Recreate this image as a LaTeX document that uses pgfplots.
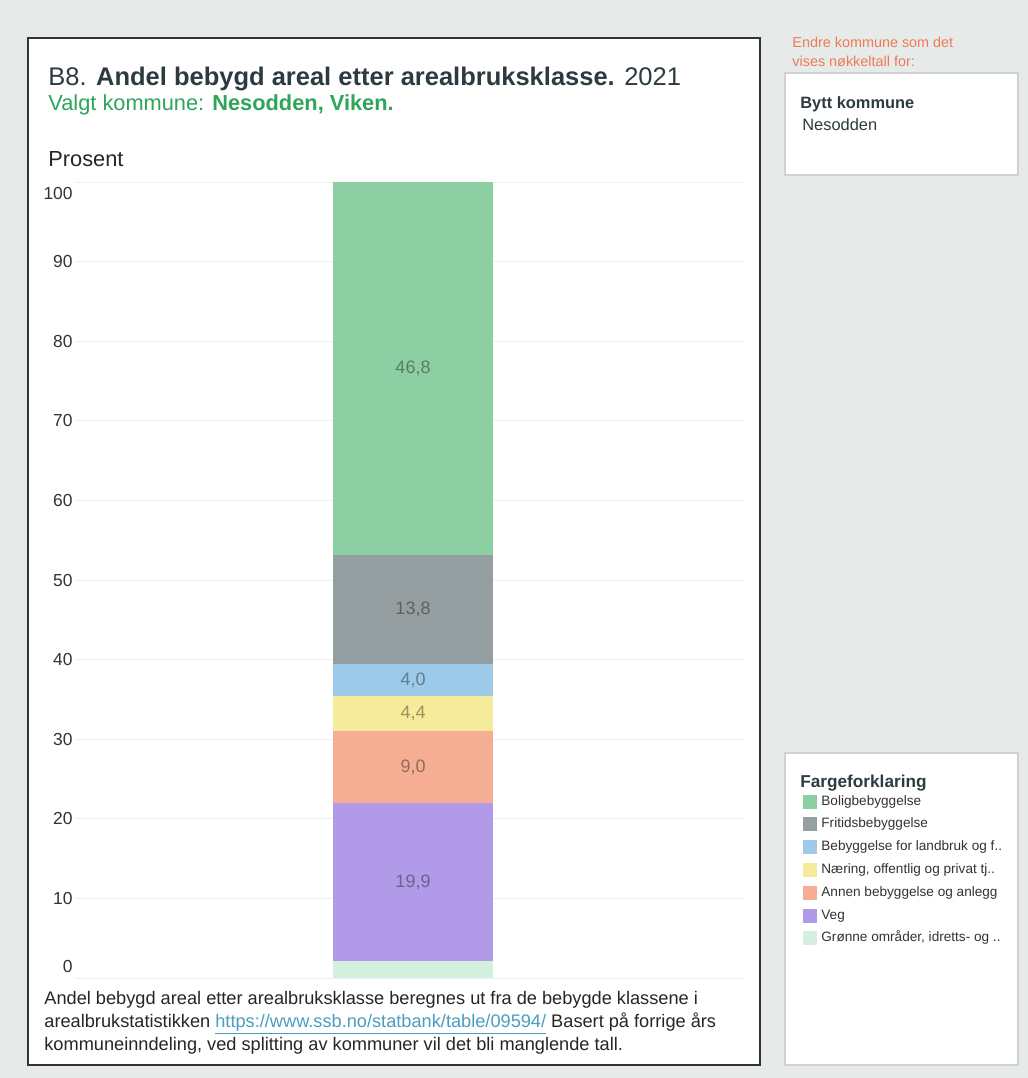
\documentclass[border=0pt]{standalone}
\usepackage{fontspec}
\setmainfont{Liberation Sans}
\usepackage{pgfplots}
\usepackage{pgfplotstable}
\pgfplotsset{compat=1.18}
\definecolor{bgc}{HTML}{E6EBEA}
\definecolor{titc}{HTML}{2D3B40}
\definecolor{subg}{HTML}{2EA55A}
\definecolor{orng}{HTML}{F07A55}
\definecolor{cBolig}{HTML}{8BCFA3}
\definecolor{cFritid}{HTML}{959FA1}
\definecolor{cLand}{HTML}{9DCAE8}
\definecolor{cNaer}{HTML}{F6EB9B}
\definecolor{cAnnen}{HTML}{F5AD93}
\definecolor{cVeg}{HTML}{B19BE8}
\definecolor{cGronn}{HTML}{D4F0DE}
\definecolor{linkc}{HTML}{4A9EC0}

\pgfplotstableread{
x gronn veg annen naer land fritid bolig
0 2.1 19.9 9.0 4.4 4.0 13.8 46.8
}\data

\begin{document}
\begin{tikzpicture}
\begin{scope}[x=0.5pt,y=-0.5pt]
\fill[bgc] (0,0) rectangle (1028,1078);
\filldraw[fill=white,draw=black!80,line width=1pt] (28,38) rectangle (760,1065);
\filldraw[fill=white,draw=black!18,line width=0.6pt] (785,73) rectangle (1018,175);
\filldraw[fill=white,draw=black!18,line width=0.6pt] (785,753) rectangle (1018,1065);
\node[anchor=base west,inner sep=0,text=titc,font=\fontsize{12.75}{15}\selectfont] at (48,85) {B8. \textbf{Andel bebygd areal etter arealbruksklasse.} 2021};
\node[anchor=base west,inner sep=0,text=subg,font=\fontsize{10.9}{12}\selectfont] at (48,110) {Valgt kommune: \textbf{Nesodden, Viken.}};
\node[anchor=base west,inner sep=0,text=black!85,font=\fontsize{10.9}{12}\selectfont] at (48,166) {Prosent};
\node[anchor=base west,inner sep=0,text=black!85,font=\fontsize{9.1}{10}\selectfont] at (44,1004) {Andel bebygd areal etter arealbruksklasse beregnes ut fra de bebygde klassene i};
\node[anchor=base west,inner sep=0,text=black!85,font=\fontsize{9.1}{10}\selectfont] at (44,1027) {arealbrukstatistikken \textcolor{linkc}{\underline{https://www.ssb.no/statbank/table/09594/}} Basert på forrige års};
\node[anchor=base west,inner sep=0,text=black!85,font=\fontsize{9.1}{10}\selectfont] at (44,1050) {kommuneinndeling, ved splitting av kommuner vil det bli manglende tall.};
\node[anchor=base west,inner sep=0,text=orng,font=\fontsize{7.2}{9}\selectfont] at (792,47) {Endre kommune som det};
\node[anchor=base west,inner sep=0,text=orng,font=\fontsize{7.2}{9}\selectfont] at (792,66) {vises nøkkeltall for:};
\node[anchor=base west,inner sep=0,text=titc,font=\fontsize{8.2}{10}\bfseries] at (800,108) {Bytt kommune};
\node[anchor=base west,inner sep=0,text=titc,font=\fontsize{8.2}{10}\selectfont] at (802,130) {Nesodden};
\node[anchor=base west,inner sep=0,text=titc,font=\fontsize{8.6}{10}\bfseries] at (800,787) {Fargeforklaring};
\end{scope}
\begin{axis}[
  scale only axis, width=335pt, height=398pt,
  at={(37.5pt,-489pt)}, anchor=south west,
  ybar stacked, bar width=80pt,
  xmin=-1.009, xmax=0.991, ymin=0, ymax=100, enlargelimits=false,
  xtick=\empty,
  ytick={0,10,20,30,40,50,60,70,80,90,100},
  yticklabels={,10,20,30,40,50,60,70,80,90,},
  ymajorgrids,
  extra y ticks={1.4,98.5},
  extra y tick labels={0,100},
  extra y tick style={grid=none},
  major grid style={draw=black!6,line width=0.5pt},
  axis lines=left, axis line style={draw=none},
  major tick length=0pt,
  yticklabel style={font=\fontsize{8.7}{10}\selectfont,text=black!80,inner xsep=0pt,xshift=-1pt},
  legend style={at={(1.0866,0.231)},anchor=north west,draw=none,fill=none,
    font=\fontsize{6.8}{8}\selectfont,text=black!80,row sep=4.4pt,inner sep=0pt,
    nodes={inner ysep=0pt,text height=5pt,text depth=1.5pt}},
  legend cell align=left,
  legend image code/.code={\fill[#1] (0pt,-3.5pt) rectangle (7pt,3.5pt);},
  reverse legend,
  lbl/.style={nodes near coords={\pgfmathprintnumber[fixed,fixed zerofill,precision=1,use comma,assume math mode=true]{\pgfplotspointmeta}},
    point meta=explicit,
    every node near coord/.append style={anchor=center,font=\fontsize{9}{10}\selectfont,text=black,text opacity=0.38}},
]
\addplot[fill=cGronn,draw=none] table[x=x,y=gronn] {\data};
\addlegendentry{Grønne områder, idretts- og ..}
\addplot[fill=cVeg,draw=none,lbl] table[x=x,y=veg,meta=veg] {\data};
\addlegendentry{Veg}
\addplot[fill=cAnnen,draw=none,lbl] table[x=x,y=annen,meta=annen] {\data};
\addlegendentry{Annen bebyggelse og anlegg}
\addplot[fill=cNaer,draw=none,lbl] table[x=x,y=naer,meta=naer] {\data};
\addlegendentry{Næring, offentlig og privat tj..}
\addplot[fill=cLand,draw=none,lbl] table[x=x,y=land,meta=land] {\data};
\addlegendentry{Bebyggelse for landbruk og f..}
\addplot[fill=cFritid,draw=none,lbl] table[x=x,y=fritid,meta=fritid] {\data};
\addlegendentry{Fritidsbebyggelse}
\addplot[fill=cBolig,draw=none,lbl] table[x=x,y=bolig,meta=bolig] {\data};
\addlegendentry{Boligbebyggelse}
\end{axis}
\end{tikzpicture}
\end{document}
